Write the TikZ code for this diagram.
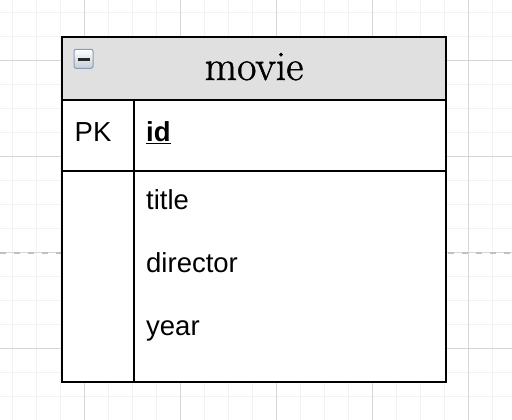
\documentclass[tikz,border=0pt]{standalone}
\usepackage{fontspec}
\newfontfamily\arialf{Liberation Sans}
\newfontfamily\titlef[FakeBold=1.2]{Latin Modern Roman}
\definecolor{gridminor}{HTML}{F2F2F2}
\definecolor{gridmajor}{HTML}{D6D6D6}
\definecolor{dashgray}{HTML}{C0C0C0}
\definecolor{hdrfill}{HTML}{E0E0E0}
\definecolor{iconborder}{HTML}{8C9CB2}
\definecolor{iconbottom}{HTML}{C3CCD8}
\begin{document}
\begin{tikzpicture}[x=1pt,y=-1pt,
  minorline/.style={draw=gridminor, line width=1pt},
  majorline/.style={draw=gridmajor, line width=1pt},
  dashline/.style={draw=dashgray, line width=2pt, dash pattern=on 6pt off 8pt},
  cellbox/.style={draw=black, line width=2pt, fill=white, inner sep=0pt, outer sep=0pt, anchor=north west},
  hdrbox/.style={cellbox, fill=hdrfill},
  titletext/.style={font=\titlef\fontsize{42}{44}\selectfont, inner sep=0pt, anchor=base},
  fieldtext/.style={font=\arialf\fontsize{27.5}{29}\selectfont, inner sep=0pt, anchor=base west},
  iconbox/.style={draw=iconborder, line width=1pt, rounded corners=2pt, top color=white, bottom color=iconbottom, minimum size=19pt, inner sep=0pt},
  minusbar/.style={draw=black!85, line width=3pt}
]
\useasboundingbox (0,0) rectangle (512,420);
\fill[white] (0,0) rectangle (512,420);
% grid
\foreach \x in {12.7,36.7,...,512} \draw[minorline] (\x,0) -- (\x,420);
\foreach \y in {12.7,36.7,...,420} \draw[minorline] (0,\y) -- (512,\y);
\foreach \x in {84.7,180.7,...,512} \draw[majorline] (\x,0) -- (\x,420);
\foreach \y in {60.7,156.7,...,420} \draw[majorline] (0,\y) -- (512,\y);
% dashed connector behind the table
\coordinate (dl) at (0,252.7);
\coordinate (dr) at (512,252.7);
\draw[dashline] (dl) -- (dr);
% table
\node[hdrbox, minimum width=384pt, minimum height=63pt] (header) at (62,37) {};
\node[cellbox, minimum width=72pt, minimum height=71pt] (pkkey) at (62,100) {};
\node[cellbox, minimum width=312pt, minimum height=71pt] (pkfield) at (134,100) {};
\node[cellbox, minimum width=72pt, minimum height=211pt] (attrkey) at (62,171) {};
\node[cellbox, minimum width=312pt, minimum height=211pt] (attrfield) at (134,171) {};
% collapse icon
\node[iconbox] (collapse) at (83.5,58.8) {};
\draw[minusbar] ([xshift=-6pt,yshift=-0.5pt]collapse.center) -- ([xshift=6pt,yshift=-0.5pt]collapse.center);
% texts
\node[titletext] (name) at (254,80) {movie};
\node[fieldtext] (pk) at (74.5,142) {PK};
\node[fieldtext, font=\arialf\bfseries\fontsize{27.5}{29}\selectfont] (id) at (146,142) {\underline{id}};
\node[fieldtext] (ftitle) at (146,209.5) {title};
\node[fieldtext] (fdirector) at (146,272.5) {director};
\node[fieldtext] (fyear) at (146,335) {year};
\end{tikzpicture}
\end{document}
